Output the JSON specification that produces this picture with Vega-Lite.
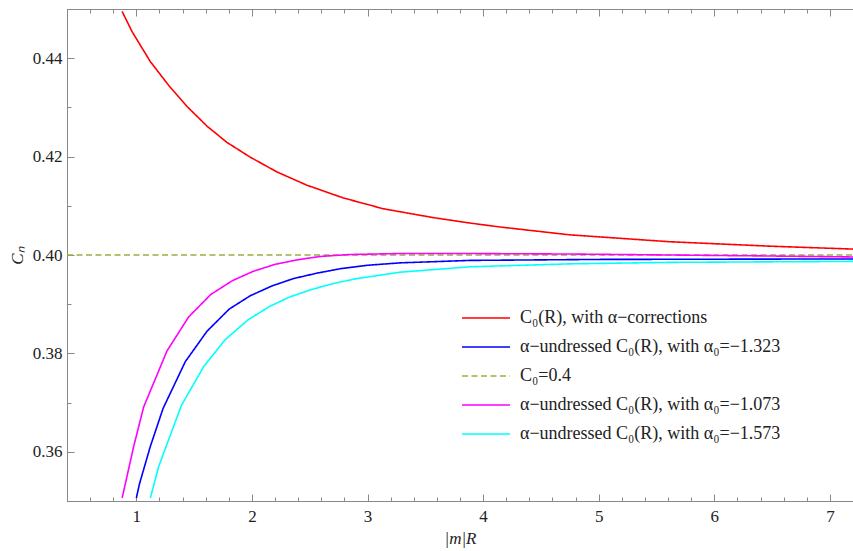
{
  "$schema": "https://vega.github.io/schema/vega-lite/v6.json",
  "width": 786,
  "height": 492,
  "autosize": {"type": "none"},
  "padding": {"left": 67, "top": 9, "right": 0, "bottom": 50},
  "background": "white",
  "config": {
    "view": {"stroke": "#888888", "strokeWidth": 1},
    "axis": {
      "domainColor": "#888888",
      "tickColor": "#888888",
      "labelFont": "Liberation Serif, Times New Roman, serif",
      "labelFontSize": 17,
      "labelColor": "#222222",
      "titleFont": "Liberation Serif, Times New Roman, serif",
      "titleFontSize": 17,
      "titleFontWeight": "normal",
      "titleFontStyle": "italic",
      "titleColor": "#222222",
      "grid": false
    }
  },
  "data": {
    "values": [
      {"s": "C₀(R), with α−corrections", "x": 0.877, "v": 0.4495},
      {"s": "C₀(R), with α−corrections", "x": 0.963, "v": 0.4454},
      {"s": "C₀(R), with α−corrections", "x": 1.121, "v": 0.4393},
      {"s": "C₀(R), with α−corrections", "x": 1.279, "v": 0.4345},
      {"s": "C₀(R), with α−corrections", "x": 1.438, "v": 0.4302},
      {"s": "C₀(R), with α−corrections", "x": 1.611, "v": 0.4262},
      {"s": "C₀(R), with α−corrections", "x": 1.783, "v": 0.4229},
      {"s": "C₀(R), with α−corrections", "x": 1.984, "v": 0.4199},
      {"s": "C₀(R), with α−corrections", "x": 2.215, "v": 0.4169},
      {"s": "C₀(R), with α−corrections", "x": 2.474, "v": 0.4142},
      {"s": "C₀(R), with α−corrections", "x": 2.790, "v": 0.4116},
      {"s": "C₀(R), with α−corrections", "x": 3.136, "v": 0.4094},
      {"s": "C₀(R), with α−corrections", "x": 3.568, "v": 0.4076},
      {"s": "C₀(R), with α−corrections", "x": 3.884, "v": 0.4065},
      {"s": "C₀(R), with α−corrections", "x": 4.143, "v": 0.4057},
      {"s": "C₀(R), with α−corrections", "x": 4.748, "v": 0.4041},
      {"s": "C₀(R), with α−corrections", "x": 5.611, "v": 0.4027},
      {"s": "C₀(R), with α−corrections", "x": 6.475, "v": 0.4018},
      {"s": "C₀(R), with α−corrections", "x": 7.2, "v": 0.4012},

      {"s": "α−undressed C₀(R), with α₀=−1.323", "x": 1.0, "v": 0.3506},
      {"s": "α−undressed C₀(R), with α₀=−1.323", "x": 1.026, "v": 0.3534},
      {"s": "α−undressed C₀(R), with α₀=−1.323", "x": 1.121, "v": 0.3611},
      {"s": "α−undressed C₀(R), with α₀=−1.323", "x": 1.231, "v": 0.3688},
      {"s": "α−undressed C₀(R), with α₀=−1.323", "x": 1.423, "v": 0.3783},
      {"s": "α−undressed C₀(R), with α₀=−1.323", "x": 1.611, "v": 0.3845},
      {"s": "α−undressed C₀(R), with α₀=−1.323", "x": 1.803, "v": 0.3890},
      {"s": "α−undressed C₀(R), with α₀=−1.323", "x": 1.984, "v": 0.3917},
      {"s": "α−undressed C₀(R), with α₀=−1.323", "x": 2.172, "v": 0.3937},
      {"s": "α−undressed C₀(R), with α₀=−1.323", "x": 2.358, "v": 0.3952},
      {"s": "α−undressed C₀(R), with α₀=−1.323", "x": 2.560, "v": 0.3963},
      {"s": "α−undressed C₀(R), with α₀=−1.323", "x": 2.762, "v": 0.3972},
      {"s": "α−undressed C₀(R), with α₀=−1.323", "x": 2.992, "v": 0.3979},
      {"s": "α−undressed C₀(R), with α₀=−1.323", "x": 3.280, "v": 0.3984},
      {"s": "α−undressed C₀(R), with α₀=−1.323", "x": 3.884, "v": 0.3989},
      {"s": "α−undressed C₀(R), with α₀=−1.323", "x": 5.0, "v": 0.3991},
      {"s": "α−undressed C₀(R), with α₀=−1.323", "x": 7.2, "v": 0.3992},

      {"s": "C₀=0.4", "x": 0.4, "v": 0.4},
      {"s": "C₀=0.4", "x": 7.2, "v": 0.4},

      {"s": "α−undressed C₀(R), with α₀=−1.073", "x": 0.877, "v": 0.3506},
      {"s": "α−undressed C₀(R), with α₀=−1.073", "x": 0.977, "v": 0.3611},
      {"s": "α−undressed C₀(R), with α₀=−1.073", "x": 1.063, "v": 0.3691},
      {"s": "α−undressed C₀(R), with α₀=−1.073", "x": 1.265, "v": 0.3805},
      {"s": "α−undressed C₀(R), with α₀=−1.073", "x": 1.452, "v": 0.3874},
      {"s": "α−undressed C₀(R), with α₀=−1.073", "x": 1.645, "v": 0.3920},
      {"s": "α−undressed C₀(R), with α₀=−1.073", "x": 1.832, "v": 0.3948},
      {"s": "α−undressed C₀(R), with α₀=−1.073", "x": 2.013, "v": 0.3967},
      {"s": "α−undressed C₀(R), with α₀=−1.073", "x": 2.200, "v": 0.3981},
      {"s": "α−undressed C₀(R), with α₀=−1.073", "x": 2.388, "v": 0.3990},
      {"s": "α−undressed C₀(R), with α₀=−1.073", "x": 2.589, "v": 0.3997},
      {"s": "α−undressed C₀(R), with α₀=−1.073", "x": 2.848, "v": 0.4001},
      {"s": "α−undressed C₀(R), with α₀=−1.073", "x": 3.280, "v": 0.4003},
      {"s": "α−undressed C₀(R), with α₀=−1.073", "x": 3.884, "v": 0.4003},
      {"s": "α−undressed C₀(R), with α₀=−1.073", "x": 4.75, "v": 0.4002},
      {"s": "α−undressed C₀(R), with α₀=−1.073", "x": 5.61, "v": 0.4000},
      {"s": "α−undressed C₀(R), with α₀=−1.073", "x": 6.47, "v": 0.3998},
      {"s": "α−undressed C₀(R), with α₀=−1.073", "x": 7.2, "v": 0.3996},

      {"s": "α−undressed C₀(R), with α₀=−1.573", "x": 1.121, "v": 0.3506},
      {"s": "α−undressed C₀(R), with α₀=−1.573", "x": 1.193, "v": 0.3570},
      {"s": "α−undressed C₀(R), with α₀=−1.573", "x": 1.389, "v": 0.3694},
      {"s": "α−undressed C₀(R), with α₀=−1.573", "x": 1.582, "v": 0.3773},
      {"s": "α−undressed C₀(R), with α₀=−1.573", "x": 1.769, "v": 0.3828},
      {"s": "α−undressed C₀(R), with α₀=−1.573", "x": 1.965, "v": 0.3868},
      {"s": "α−undressed C₀(R), with α₀=−1.573", "x": 2.157, "v": 0.3896},
      {"s": "α−undressed C₀(R), with α₀=−1.573", "x": 2.330, "v": 0.3915},
      {"s": "α−undressed C₀(R), with α₀=−1.573", "x": 2.517, "v": 0.3930},
      {"s": "α−undressed C₀(R), with α₀=−1.573", "x": 2.704, "v": 0.3942},
      {"s": "α−undressed C₀(R), with α₀=−1.573", "x": 2.906, "v": 0.3952},
      {"s": "α−undressed C₀(R), with α₀=−1.573", "x": 3.280, "v": 0.3965},
      {"s": "α−undressed C₀(R), with α₀=−1.573", "x": 3.884, "v": 0.3976},
      {"s": "α−undressed C₀(R), with α₀=−1.573", "x": 4.75, "v": 0.3982},
      {"s": "α−undressed C₀(R), with α₀=−1.573", "x": 5.61, "v": 0.3985},
      {"s": "α−undressed C₀(R), with α₀=−1.573", "x": 7.2, "v": 0.3987}
    ]
  },
  "layer": [
    {
      "mark": {"type": "line", "strokeWidth": 1.6, "clip": true},
      "encoding": {
        "x": {
          "field": "x", "type": "quantitative",
          "scale": {"domain": [0.4, 7.2], "nice": false, "zero": false},
          "axis": {
            "title": "|m|R",
            "values": [0.4,0.6,0.8,1,1.2,1.4,1.6,1.8,2,2.2,2.4,2.6,2.8,3,3.2,3.4,3.6,3.8,4,4.2,4.4,4.6,4.8,5,5.2,5.4,5.6,5.8,6,6.2,6.4,6.6,6.8,7,7.2],
            "labelExpr": "abs(datum.value - round(datum.value)) < 0.001 ? format(datum.value, 'd') : ''",
            "tickSize": {"condition": {"test": "abs(datum.value - round(datum.value)) < 0.001", "value": -7}, "value": -4},
            "labelPadding": 14,
            "titlePadding": 6,
            "labelFlush": false
          }
        },
        "y": {
          "field": "v", "type": "quantitative",
          "scale": {"domain": [0.35, 0.45], "nice": false, "zero": false},
          "axis": {
            "title": "Cₙ",
            "values": [0.35,0.355,0.36,0.365,0.37,0.375,0.38,0.385,0.39,0.395,0.4,0.405,0.41,0.415,0.42,0.425,0.43,0.435,0.44,0.445,0.45],
            "labelExpr": "abs(datum.value * 50 - round(datum.value * 50)) < 0.001 ? format(datum.value, '.2f') : ''",
            "tickSize": {"condition": {"test": "abs(datum.value * 50 - round(datum.value * 50)) < 0.001", "value": -7}, "value": -4},
            "labelPadding": 12,
            "titlePadding": 6,
            "labelFlush": false
          }
        },
        "color": {
          "field": "s", "type": "nominal",
          "scale": {
            "domain": ["C₀(R), with α−corrections", "α−undressed C₀(R), with α₀=−1.323", "C₀=0.4", "α−undressed C₀(R), with α₀=−1.073", "α−undressed C₀(R), with α₀=−1.573"],
            "range": ["#ff0000", "#0000ff", "#9bb03e", "#ff00ff", "#00ffff"]
          },
          "legend": {
            "title": null,
            "orient": "none",
            "legendX": 410,
            "legendY": 300,
            "symbolType": "M-4,0H4",
            "symbolSize": 144,
            "symbolStrokeWidth": 1.6,
            "labelFont": "Liberation Serif, Times New Roman, serif",
            "labelFontSize": 18,
            "labelColor": "#222222",
            "labelLimit": 500,
            "labelOffset": 25,
            "rowPadding": 11,
            "padding": 0
          }
        },
        "strokeDash": {
          "field": "s", "type": "nominal",
          "scale": {
            "domain": ["C₀(R), with α−corrections", "α−undressed C₀(R), with α₀=−1.323", "C₀=0.4", "α−undressed C₀(R), with α₀=−1.073", "α−undressed C₀(R), with α₀=−1.573"],
            "range": [[1, 0], [1, 0], [6, 3.5], [1, 0], [1, 0]]
          },
          "legend": {
            "title": null,
            "orient": "none",
            "legendX": 410,
            "legendY": 300,
            "symbolType": "M-4,0H4",
            "symbolSize": 144,
            "symbolStrokeWidth": 1.6,
            "labelFont": "Liberation Serif, Times New Roman, serif",
            "labelFontSize": 18,
            "labelColor": "#222222",
            "labelLimit": 500,
            "labelOffset": 25,
            "rowPadding": 11,
            "padding": 0
          }
        }
      }
    },
    {
      "mark": {"type": "line", "strokeOpacity": 0},
      "encoding": {
        "x": {
          "field": "x", "type": "quantitative",
          "scale": {"domain": [0.4, 7.2], "nice": false, "zero": false},
          "axis": {
            "orient": "top",
            "title": null,
            "labels": false,
            "values": [0.4,0.6,0.8,1,1.2,1.4,1.6,1.8,2,2.2,2.4,2.6,2.8,3,3.2,3.4,3.6,3.8,4,4.2,4.4,4.6,4.8,5,5.2,5.4,5.6,5.8,6,6.2,6.4,6.6,6.8,7,7.2],
            "tickSize": {"condition": {"test": "abs(datum.value - round(datum.value)) < 0.001", "value": -7}, "value": -4}
          }
        },
        "y": {"field": "v", "type": "quantitative"}
      }
    }
  ],
  "resolve": {"axis": {"x": "independent"}}
}
